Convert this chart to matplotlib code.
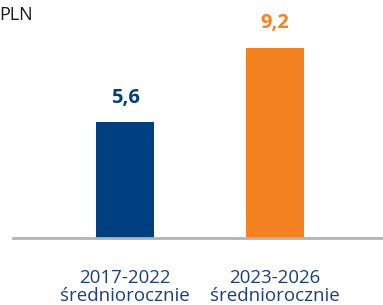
import matplotlib.pyplot as plt

# data
categories = ['2017-2022\nśredniorocznie', '2023-2026\nśredniorocznie']
values = [5.6, 9.2]
value_labels = ['5,6', '9,2']
colors = ['#003f7f', '#f58220']
unit = 'PLN'

W, H = 383, 305
fig = plt.figure(figsize=(W / 100, H / 100), dpi=100)
plt.rcParams['font.family'] = ['Open Sans', 'DejaVu Sans']

# axes: left edge at px 13, bottom (zero line) at px 238, top at px 0
ax = fig.add_axes([13 / W, 1 - 238 / H, 1 - 13 / W, 238 / H])
ax.set_xlim(-0.7467, 1.72)
ax.set_ylim(0, 238 / 20.68)

x = range(len(values))
ax.bar(x, values, width=0.387, color=colors, zorder=2)
for i, (v, lab) in enumerate(zip(values, value_labels)):
    ax.text(i, v + 0.7, lab, ha='center', va='bottom', fontsize=14.5,
            fontweight='bold', color=colors[i])

for s in ['top', 'right', 'left']:
    ax.spines[s].set_visible(False)
ax.spines['bottom'].set_color('#b3b3b3')
ax.spines['bottom'].set_linewidth(2)
ax.set_yticks([])
ax.set_xticks(list(x))
ax.set_xticklabels(categories, fontsize=13.5, color='#1b3f7a', linespacing=1.0)
ax.tick_params(axis='x', length=0, pad=22)

fig.text(-1 / W, 1 - 15 / H, unit, ha='left', va='center', fontsize=13,
         color='#1a1a1a')

fig.savefig('out.png', dpi=100)
